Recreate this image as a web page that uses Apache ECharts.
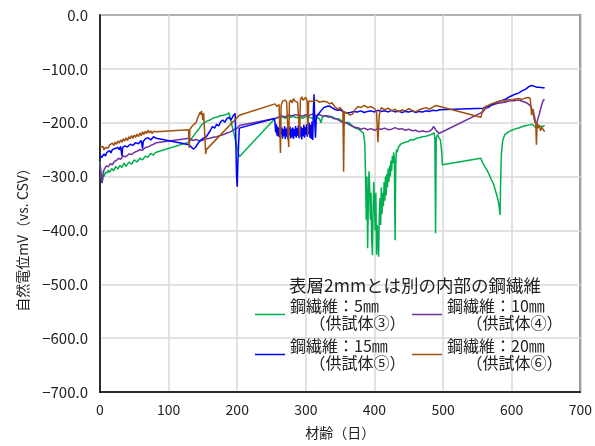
<!DOCTYPE html>
<html>
<head>
<meta charset="utf-8">
<script src="https://cdn.jsdelivr.net/npm/echarts@6/dist/echarts.min.js"></script>
<style>html,body{margin:0;padding:0;background:#fff}#c{width:595px;height:446px}</style>
</head>
<body>
<div id="c"></div>
<script>
const xTicks = [0,100,200,300,400,500,600,700];
const yTicks = [0,-100,-200,-300,-400,-500,-600,-700];
const seriesNames = ['鋼繊維：5㎜','鋼繊維：10㎜','鋼繊維：15㎜','鋼繊維：20㎜'];
const seriesSub = ['（供試体③）','（供試体④）','（供試体⑤）','（供試体⑥）'];
const legendTitle = '表層2mmとは別の内部の鋼繊維';

const green5 = [[0,-272],[1,-290],[2,-300],[3,-312],[4,-305],[5,-294],[6,-300],[7,-296],[8,-292],[9,-290],[10,-295],[11,-293],[12,-288],[13,-286],[14,-292],[15,-290],[17,-285],[18,-283],[20,-289],[21,-287],[23,-281],[24,-280],[26,-286],[27,-284],[29,-279],[30,-278],[32,-283],[33,-281],[35,-275],[36,-276],[38,-281],[40,-279],[42,-273],[44,-272],[46,-277],[48,-275],[50,-269],[52,-268],[54,-273],[56,-271],[58,-266],[60,-265],[62,-269],[64,-268],[66,-262],[68,-261],[70,-264],[72,-262],[74,-257],[76,-258],[78,-260],[80,-256],[82,-253],[84,-254],
[130,-236],[133,-230],[136,-225],[140,-218],[144,-212],[148,-204],[152,-200],[156,-197],[160,-195],[165,-191],[170,-190],[175,-187],[180,-186],[185,-184],[188,-182],
[203,-263],[255,-192],[260,-190],[265,-188],[270,-192],[274,-186],[278,-190],[282,-188],[286,-191],[290,-189],[295,-192],[300,-188],[305,-190],[310,-192],[315,-189],[320,-193],[322,-200],[324,-190],[328,-187],[333,-190],[338,-189],[343,-192],[348,-193],[353,-197],[358,-200],[362,-199],[367,-205],[372,-210],[377,-212],[381,-216],[384,-220],
[386,-240],[387,-300],[388,-380],[389,-300],[390,-433],[391,-350],[392,-290],[393,-320],[394,-380],[395,-330],[396,-420],[397,-446],[398,-360],[399,-310],[400,-350],[401,-400],[402,-330],[403,-445],[404,-390],[405,-420],[406,-449],[407,-370],[408,-340],[409,-390],[410,-320],[411,-370],[412,-330],[413,-355],[414,-310],[415,-345],[416,-300],[417,-335],[418,-295],[419,-320],[420,-285],[421,-310],[422,-280],[423,-300],[424,-270],[425,-290],[426,-262],[427,-275],[428,-255],[429,-265],[430,-418],[431,-280],[432,-250],[433,-255],[435,-245],
[438,-240],[441,-238],[445,-236],[449,-235],[453,-231],[457,-232],[461,-229],[465,-228],[470,-226],[475,-225],[480,-223],[484,-221],[487,-219],[488,-230],[489,-405],[490,-228],[492,-222],[494,-228],[496,-232],[498,-255],[499,-278],
[555,-266],[558,-275],[561,-282],[564,-288],[567,-296],[570,-305],[573,-312],[576,-325],[579,-338],[581,-350],[583,-371],[584,-300],[585,-257],[587,-232],[590,-222],[594,-218],[598,-215],[602,-213],[606,-211],[610,-210],[614,-208],[618,-206],[622,-205],[626,-204],[630,-203],[633,-207],[636,-210],[640,-206],[645,-207],[648,-205]];

const purple10 = [[0,-275],[1,-290],[2,-305],[3,-312],[4,-300],[5,-290],[7,-285],[9,-280],[12,-282],[15,-276],[18,-278],[21,-272],[24,-270],[27,-266],[30,-268],[34,-262],[38,-263],[42,-258],[46,-259],[50,-255],[54,-253],[58,-250],[62,-251],[66,-246],[70,-245],[74,-242],[78,-240],[82,-237],[84,-235],
[130,-229],[135,-233],[140,-231],[145,-234],[150,-232],[155,-230],[160,-229],[165,-227],[170,-226],[175,-224],[180,-222],[185,-219],[190,-217],[195,-213],[200,-210],[203,-205],
[255,-192],[260,-190],[265,-188],[270,-189],[275,-186],[280,-187],[285,-185],[290,-186],[295,-188],[300,-185],[305,-186],[310,-184],[315,-187],[320,-185],[325,-188],[330,-187],[335,-188],[340,-192],[345,-193],[350,-197],[355,-200],[360,-201],[365,-205],[370,-208],[377,-210],[380,-212],[385,-210],[390,-213],[395,-211],[400,-214],[405,-211],[410,-212],[415,-210],[420,-213],[425,-212],[430,-209],[435,-212],[440,-211],[445,-214],[450,-212],[455,-215],[460,-214],[465,-217],[470,-215],[475,-217],[480,-216],[484,-212],[486,-207],[488,-210],[491,-216],[494,-220],
[558,-180],[562,-173],[566,-172],[570,-168],[575,-166],[580,-164],[585,-163],[590,-162],[595,-160],[600,-159],[605,-159],[610,-158],[615,-160],[620,-162],[624,-165],[628,-170],[631,-180],[633,-195],[635,-203],[637,-198],[640,-185],[643,-170],[646,-158],[648,-157]];

const blue15 = [[0,-259],[2,-265],[4,-262],[6,-258],[8,-262],[10,-255],[12,-258],[14,-252],[16,-256],[18,-250],[20,-253],[22,-248],[24,-251],[26,-246],[28,-250],[30,-244],[32,-262],[33,-246],[36,-243],[40,-245],[44,-240],[48,-242],[52,-237],[56,-239],[60,-233],[62,-248],[63,-235],[66,-230],[70,-228],[74,-232],[78,-226],[82,-229],[84,-226],
[130,-241],[133,-245],[136,-249],[139,-246],[142,-240],[146,-233],[150,-229],[155,-226],[158,-220],[161,-214],[164,-207],[167,-210],[170,-203],[173,-206],[176,-198],[179,-195],[182,-199],[185,-192],[188,-190],[191,-195],[194,-187],[197,-183],[198,-240],[199,-300],[200,-319],[201,-270],[203,-210],
[254,-192],[255,-200],[256,-218],[257,-203],[258,-224],[259,-207],[260,-226],[261,-210],[262,-228],[263,-205],[264,-222],[265,-209],[266,-229],[267,-212],[268,-225],[269,-206],[270,-230],[271,-211],[272,-226],[273,-208],[274,-231],[275,-213],[276,-224],[277,-207],[278,-229],[279,-211],[280,-227],[281,-209],[282,-230],[283,-212],[284,-225],[285,-206],[286,-228],[287,-210],[288,-224],[289,-205],[290,-229],[291,-213],[292,-226],[293,-207],[294,-231],[295,-210],[296,-225],[297,-204],[298,-228],[299,-208],[300,-222],[301,-203],[302,-226],[303,-205],[304,-221],[305,-200],[306,-228],[307,-204],[308,-230],[309,-198],[310,-232],[311,-175],[312,-147],[313,-200],[314,-228],[315,-195],[316,-188],
[319,-183],[322,-178],[326,-172],[330,-170],[334,-169],[338,-172],[342,-175],[346,-177],[350,-176],[355,-180],[360,-182],[365,-181],[370,-179],[375,-180],[380,-178],[385,-181],[390,-179],[395,-178],[400,-180],[405,-177],[410,-179],[415,-178],[420,-180],[425,-177],[430,-180],[435,-178],[440,-181],[445,-179],[450,-180],[455,-178],[460,-181],[465,-179],[470,-180],[475,-178],[480,-179],[485,-177],[490,-178],[495,-176],
[558,-173],[562,-171],[566,-170],[570,-167],[575,-164],[580,-161],[585,-159],[590,-157],[595,-153],[600,-150],[605,-147],[610,-145],[615,-141],[620,-138],[625,-133],[628,-131],[632,-132],[636,-134],[640,-134],[645,-135],[648,-135]];

const brown20 = [[0,-245],[2,-248],[4,-244],[6,-250],[8,-246],[10,-243],[12,-247],[14,-241],[16,-244],[18,-238],[20,-242],[22,-236],[24,-240],[26,-234],[28,-238],[30,-232],[32,-236],[34,-230],[36,-234],[38,-228],[40,-233],[42,-226],[44,-230],[46,-224],[48,-229],[50,-223],[52,-227],[54,-221],[56,-226],[58,-219],[60,-224],[62,-217],[64,-222],[66,-216],[68,-220],[70,-214],[72,-219],[74,-215],[76,-220],[78,-216],[80,-219],[82,-217],[84,-219],
[129,-213],[130,-247],[131,-212],[134,-207],[137,-203],[140,-200],[142,-192],[144,-186],[146,-180],[147,-185],[148,-178],[150,-195],[151,-182],[153,-230],[154,-258],[155,-250],
[203,-186],[255,-165],[258,-170],[261,-166],[263,-256],[264,-168],[266,-160],[268,-163],[270,-158],[272,-162],[274,-160],[275,-245],[276,-162],[278,-158],[280,-163],[282,-155],[284,-160],[286,-157],[288,-162],[290,-160],[291,-226],[292,-158],[294,-152],[296,-158],[298,-155],[300,-153],[302,-160],[303,-223],[304,-160],[306,-157],[310,-160],[315,-158],[320,-162],[325,-160],[330,-161],[335,-165],[338,-163],[342,-170],[346,-175],[350,-172],[354,-178],[355,-291],[356,-180],[360,-182],[364,-186],[368,-184],[372,-175],[376,-170],[380,-172],[385,-168],[390,-172],[395,-170],[400,-174],[403,-180],[405,-236],[407,-185],[410,-172],[415,-176],[420,-173],[425,-178],[430,-175],[435,-180],[440,-176],[445,-178],[450,-174],[455,-177],[460,-180],[465,-176],[470,-174],[475,-172],[480,-175],[485,-171],[490,-168],[495,-170],
[555,-190],[558,-175],[562,-170],[566,-168],[570,-165],[575,-163],[580,-161],[585,-159],[590,-160],[595,-157],[600,-158],[605,-156],[610,-155],[615,-157],[620,-154],[624,-153],[627,-155],[629,-186],[631,-175],[633,-173],[635,-200],[636,-241],[637,-200],[639,-210],[640,-204],[642,-215],[644,-208],[646,-213],[648,-217]];

const colors = ['#00b050','#7030a0','#0000ff','#a0500c'];
const datasets = [green5, purple10, blue15, brown20];
const FONT = '"Noto Sans CJK JP", "Noto Sans", sans-serif';

const chart = echarts.init(document.getElementById('c'), null, {renderer:'canvas'});

const legendPos = [[255,289],[412,289],[255,329],[412,329]];
const legends = seriesNames.map((n,i)=>({
  data:[n], left:legendPos[i][0], top:legendPos[i][1], padding:0,
  icon:'rect', itemWidth:30, itemHeight:1.5, selectedMode:false,
  textStyle:{fontFamily:FONT, fontSize:16, color:'#222', lineHeight:17, padding:[17,0,0,0]},
  formatter: name => name + '\n\u3000 ' + seriesSub[seriesNames.indexOf(name)]
}));

chart.setOption({
  animation:false,
  backgroundColor:'#fff',
  title:{text:legendTitle, left:284, top:272, textStyle:{fontFamily:FONT, fontSize:17.5, fontWeight:'normal', color:'#222'}},
  legend: legends,
  grid:{left:100, top:15, right:12, bottom:54, show:true, borderColor:'#000', borderWidth:1.5, containLabel:false},
  xAxis:{type:'value', min:0, max:700, interval:100,
    name:'材齢（日）', nameLocation:'middle', nameGap:34,
    nameTextStyle:{fontFamily:FONT, fontSize:14, color:'#222'},
    axisLine:{show:true, onZero:false, lineStyle:{color:'#000', width:1.5}},
    axisTick:{show:false},
    axisLabel:{fontFamily:FONT, fontSize:14, color:'#222', margin:11},
    splitLine:{show:true, lineStyle:{color:'#d9d9d9', width:1.5}}},
  yAxis:{type:'value', min:-700, max:0, interval:100,
    name:'自然電位mV（vs. CSV）', nameLocation:'middle', nameGap:70,
    nameTextStyle:{fontFamily:FONT, fontSize:14, color:'#222', padding:[0,66,0,0]},
    axisLine:{show:true, onZero:false, lineStyle:{color:'#000', width:1.5}},
    axisTick:{show:false},
    axisLabel:{fontFamily:FONT, fontSize:15, color:'#222', margin:12,
      formatter: v => (v<0?'\u2212':'') + Math.abs(v).toFixed(1)},
    splitLine:{show:true, lineStyle:{color:'#d9d9d9', width:1.5}}},
  series: seriesNames.map((n,i)=>({
    name:n, type:'line', data:datasets[i], symbol:'none', showSymbol:false,
    lineStyle:{color:colors[i], width:1.5}, itemStyle:{color:colors[i]},
    z:2+i
  }))
});
</script>
</body>
</html>
